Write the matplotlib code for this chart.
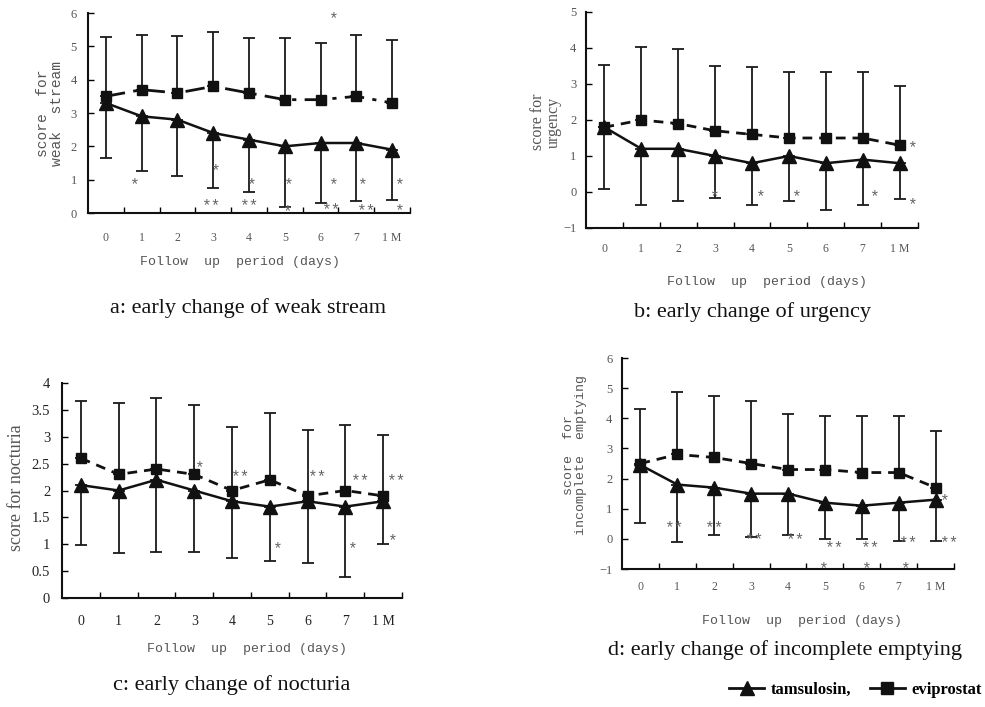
import matplotlib
matplotlib.use("Agg")
import matplotlib.pyplot as plt
from matplotlib.lines import Line2D
import numpy as np

# ---------------- data ----------------
x_labels = ['0', '1', '2', '3', '4', '5', '6', '7', '1 M']

a_evi = [3.5, 3.7, 3.6, 3.8, 3.6, 3.4, 3.4, 3.5, 3.3]
a_evi_upper = [5.28, 5.35, 5.32, 5.42, 5.25, 5.25, 5.1, 5.35, 5.18]
a_tam = [3.3, 2.9, 2.8, 2.4, 2.2, 2.0, 2.1, 2.1, 1.9]
a_tam_lower = [1.65, 1.25, 1.1, 0.75, 0.62, 0.18, 0.3, 0.35, 0.4]

b_evi = [1.8, 2.0, 1.9, 1.7, 1.6, 1.5, 1.5, 1.5, 1.3]
b_evi_upper = [3.54, 4.03, 3.97, 3.49, 3.46, 3.33, 3.33, 3.33, 2.94]
b_tam = [1.8, 1.2, 1.2, 1.0, 0.8, 1.0, 0.8, 0.9, 0.8]
b_tam_lower = [0.07, -0.35, -0.26, -0.17, -0.35, -0.26, -0.49, -0.35, -0.19]

c_evi = [2.6, 2.3, 2.4, 2.3, 2.0, 2.2, 1.9, 2.0, 1.9]
c_evi_upper = [3.67, 3.62, 3.72, 3.6, 3.18, 3.45, 3.12, 3.22, 3.04]
c_tam = [2.1, 2.0, 2.2, 2.0, 1.8, 1.7, 1.8, 1.7, 1.8]
c_tam_lower = [0.99, 0.84, 0.86, 0.86, 0.74, 0.68, 0.66, 0.39, 1.01]

d_evi = [2.5, 2.8, 2.7, 2.5, 2.3, 2.3, 2.2, 2.2, 1.7]
d_evi_upper = [4.3, 4.86, 4.75, 4.58, 4.15, 4.09, 4.09, 4.09, 3.59]
d_tam = [2.45, 1.8, 1.7, 1.5, 1.5, 1.2, 1.1, 1.2, 1.3]
d_tam_lower = [0.51, -0.12, 0.12, 0.07, 0.14, 0.0, 0.0, -0.08, -0.08]

# significance marks (category position, value, text)
a_stars = [(0.77, 0.95, '*'), (3.05, 1.37, '*'), (2.93, 0.33, '**'), (4.04, 0.95, '*'),
           (4.0, 0.33, '**'), (5.09, 0.95, '*'), (5.05, 0.15, '*'), (6.34, 5.95, '*'),
           (6.33, 0.95, '*'), (6.28, 0.2, '**'), (7.15, 0.95, '*'), (7.27, 0.18, '**'),
           (8.2, 0.95, '*'), (8.2, 0.18, '*')]
b_stars = [(2.97, -0.03, '*'), (4.21, -0.03, '*'), (5.18, -0.03, '*'), (7.3, -0.03, '*'),
           (8.32, 1.34, '*'), (8.34, -0.26, '*')]
c_stars = [(3.13, 2.49, '*'), (4.19, 2.33, '**'), (5.18, 0.98, '*'), (6.24, 2.33, '**'),
           (7.37, 2.25, '**'), (7.16, 0.98, '*'), (8.33, 2.25, '**'), (8.24, 1.13, '*')]
d_stars = [(0.9, 0.48, '**'), (1.99, 0.48, '**'), (3.07, 0.09, '**'), (4.18, 0.09, '**'),
           (5.24, -0.18, '**'), (6.21, -0.18, '**'), (7.25, -0.02, '**'), (8.35, -0.02, '**'),
           (8.23, 1.38, '*'), (4.94, -0.88, '*'), (6.12, -0.88, '*'), (7.16, -0.88, '*')]

# ---------------- figure ----------------
W, H = 985, 707
fig = plt.figure(figsize=(W / 100, H / 100), dpi=100)

GRAY = '#555555'
MONO = 'Liberation Mono'
SERIF = 'Liberation Serif'


def px_rect(l, r, t, b):
    return [l / W, 1 - b / H, (r - l) / W, (b - t) / H]


panels = [
    dict(rect=px_rect(88, 410, 13, 213), ylim=(0, 6), yticks=np.arange(0, 7, 1),
         ytl=[str(v) for v in range(0, 7)], evi=a_evi, evi_up=a_evi_upper, tam=a_tam,
         tam_lo=a_tam_lower, stars=a_stars, ls=(0, (7, 3, 1.5, 3)),
         xpad=14, ypad=8, tfs=8.5, tcol=GRAY),
    dict(rect=px_rect(586, 918, 12, 228), ylim=(-1, 5), yticks=np.arange(-1, 6, 1),
         ytl=['\u22121'] + [str(v) for v in range(0, 6)], evi=b_evi, evi_up=b_evi_upper,
         tam=b_tam, tam_lo=b_tam_lower, stars=b_stars, ls=(0, (3.5, 2.5)),
         xpad=11, ypad=7, tfs=8.5, tcol=GRAY),
    dict(rect=px_rect(62, 402, 383, 598), ylim=(0, 4), yticks=np.arange(0, 4.01, 0.5),
         ytl=['0', '0.5', '1', '1.5', '2', '2.5', '3', '3.5', '4'], evi=c_evi,
         evi_up=c_evi_upper, tam=c_tam, tam_lo=c_tam_lower, stars=c_stars,
         ls=(0, (3.5, 2.5)), xpad=12, ypad=8.5, tfs=10, tcol='#222222'),
    dict(rect=px_rect(622, 954, 358, 569), ylim=(-1, 6), yticks=np.arange(-1, 7, 1),
         ytl=['\u22121'] + [str(v) for v in range(0, 7)], evi=d_evi, evi_up=d_evi_upper,
         tam=d_tam, tam_lo=d_tam_lower, stars=d_stars, ls=(0, (3.5, 2.5)),
         xpad=9, ypad=7, tfs=8.5, tcol=GRAY),
]

x = np.arange(len(x_labels))

for p in panels:
    ax = fig.add_axes(p['rect'])
    evi = np.array(p['evi'])
    tam = np.array(p['tam'])
    up = np.array(p['evi_up'])
    lo = np.array(p['tam_lo'])
    ax.errorbar(x, evi, yerr=[np.zeros_like(evi), up - evi], fmt='none', ecolor='#1a1a1a',
                elinewidth=1.3, capsize=4.5, capthick=1.3, zorder=2)
    ax.errorbar(x, tam, yerr=[tam - lo, np.zeros_like(tam)], fmt='none', ecolor='#1a1a1a',
                elinewidth=1.3, capsize=4.5, capthick=1.3, zorder=2)
    ax.plot(x, evi, color='#111111', lw=2.0, linestyle=p['ls'], marker='s', ms=7.5,
            zorder=3)
    ax.plot(x, tam, color='#111111', lw=1.8, linestyle='-', marker='^', ms=10, zorder=4)
    for sx, sy, st in p['stars']:
        ax.annotate(st, (sx, sy), xytext=(0, -2.5), textcoords='offset points',
                    ha='center', va='center', fontsize=11.5, color='#666666',
                    family=MONO, zorder=5, annotation_clip=False)
    ax.set_xlim(-0.5, 8.5)
    ax.set_ylim(*p['ylim'])
    ax.set_yticks(p['yticks'])
    ax.set_yticklabels(p['ytl'], family=SERIF, fontsize=p['tfs'] + 0.5, color=p['tcol'])
    ax.set_xticks(x)
    ax.set_xticklabels(x_labels, family=SERIF, fontsize=p['tfs'], color=p['tcol'])
    ax.set_xticks(np.arange(0.5, 9, 1), minor=True)
    ax.tick_params(axis='x', which='major', length=0, pad=p['xpad'])
    ax.tick_params(axis='x', which='minor', length=4, width=1, direction='in')
    ax.tick_params(axis='y', which='major', length=4, width=1, direction='in',
                   pad=p['ypad'])
    for s in ['top', 'right']:
        ax.spines[s].set_visible(False)
    for s in ['left', 'bottom']:
        ax.spines[s].set_linewidth(1.5)
        ax.spines[s].set_color('#111111')


def ftext(xp, yp, s, **kw):
    fig.text(xp / W, 1 - yp / H, s, **kw)


# x axis titles
for xp, yp in [(240, 262), (767, 282), (247, 649), (802, 621)]:
    ftext(xp, yp, 'Follow  up  period (days)', ha='center', va='center', family=MONO,
          fontsize=9.5, color=GRAY)

# y labels
ftext(50, 113, 'score  for\nweak  stream', ha='center', va='center', rotation=90,
      family=MONO, fontsize=10.5, color=GRAY, linespacing=1.0, multialignment='center')
ftext(546, 122, 'score for\nurgency', ha='center', va='center', rotation=90,
      family=SERIF, fontsize=11.5, color=GRAY, linespacing=1.0, multialignment='center')
ftext(17, 488, 'score for nocturia', ha='center', va='center', rotation=90,
      family=SERIF, fontsize=13, color=GRAY)
ftext(575, 455, 'score  for\nincomplete  emptying', ha='center', va='center', rotation=90,
      family=MONO, fontsize=9.5, color=GRAY, linespacing=1.0, multialignment='center')

# captions
for xp, yp, s in [(248, 308, 'a: early change of weak stream'),
                  (752, 312, 'b: early change of urgency'),
                  (232, 685, 'c: early change of nocturia'),
                  (785, 650, 'd: early change of incomplete emptying')]:
    ftext(xp, yp, s, ha='center', va='center', family=SERIF, fontsize=16,
          color='#111111')

# legend
handles = [Line2D([], [], color='#111111', lw=2.0, marker='^', ms=10),
           Line2D([], [], color='#111111', lw=2.0, marker='s', ms=9)]
fig.legend(handles, ['tamsulosin,', 'eviprostat'], loc='center right',
           bbox_to_anchor=(982 / W, 1 - 690 / H), ncol=2, frameon=False,
           prop=dict(family=SERIF, weight='bold', size=12), handlelength=2.1,
           handletextpad=0.4, columnspacing=1.1, borderaxespad=0, borderpad=0)

fig.savefig('out.png', dpi=100)
